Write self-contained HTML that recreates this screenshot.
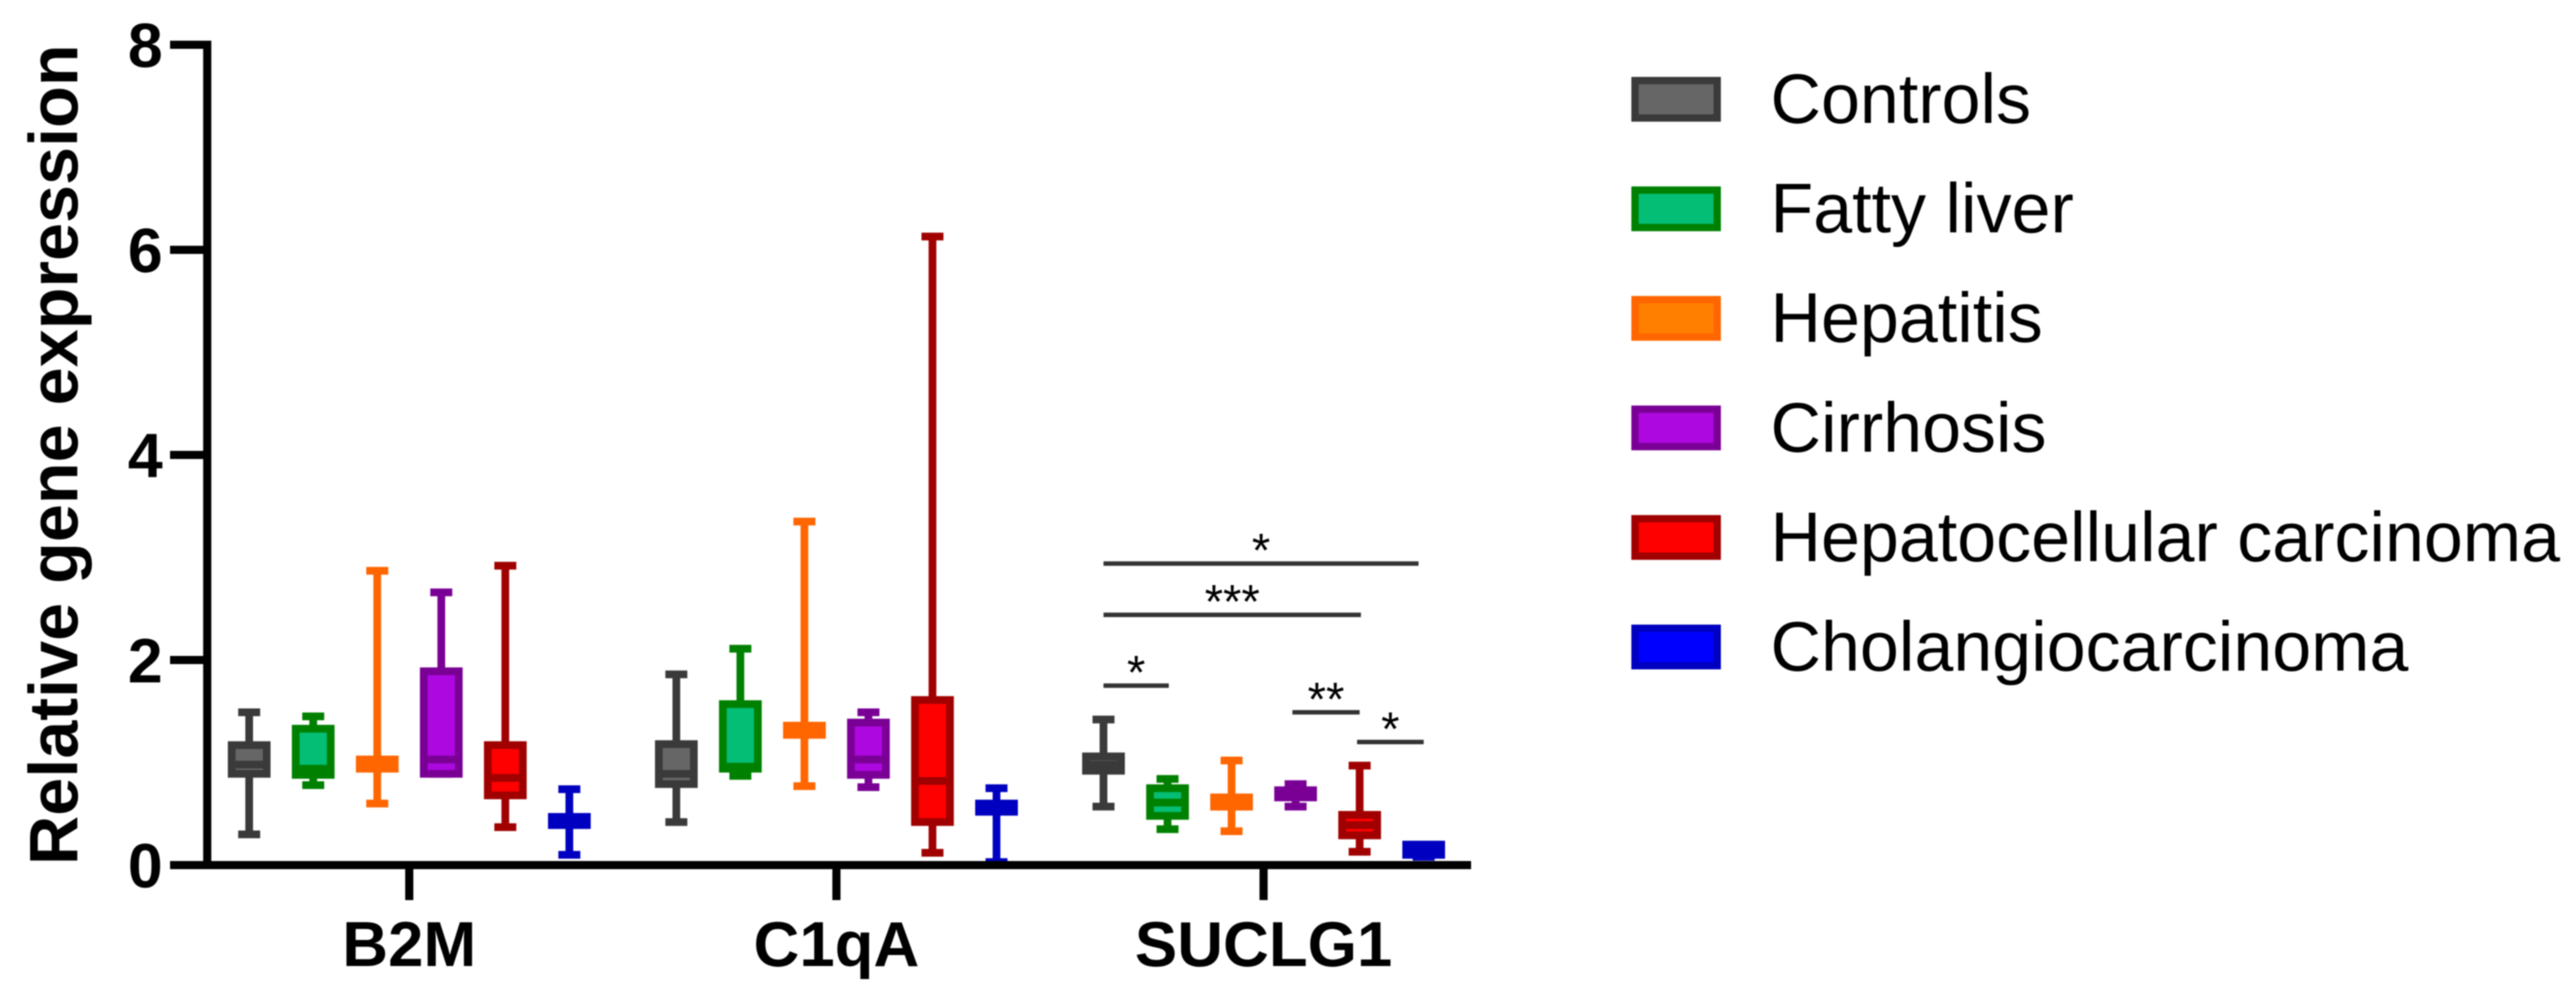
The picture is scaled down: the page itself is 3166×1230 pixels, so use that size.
<!DOCTYPE html>
<html lang="en">
<head>
<meta charset="utf-8">
<title>Relative gene expression box plot</title>
<style>
  html, body { margin: 0; padding: 0; background: #fff; }
  body { width: 3166px; height: 1230px; overflow: hidden; }
  svg { display: block; filter: blur(0.7px); }
  text { font-family: "Liberation Sans", Arial, sans-serif; fill: #000; }
</style>
</head>
<body>
<svg id="chart" xmlns="http://www.w3.org/2000/svg" width="3166" height="1230" viewBox="0 0 3166 1230">
  <rect x="0" y="0" width="3166" height="1230" fill="#ffffff"/>
  <g id="marks"></g>
  <g id="axes"></g>
  <g id="significance"></g>
  <g id="legend"></g>
  <text transform="translate(95 1063) rotate(-90)" font-size="84" font-weight="700">Relative gene expression</text>
</svg>
<script>
// Data. Rows: gene; columns: patient group.
const categories = ['B2M', 'C1qA', 'SUCLG1'];
const seriesNames = ['Controls', 'Fatty liver', 'Hepatitis', 'Cirrhosis', 'Hepatocellular carcinoma', 'Cholangiocarcinoma'];
const yTicks = [0, 2, 4, 6, 8];

const whiskerHigh = [
  [1.49, 1.45, 2.87, 2.66, 2.92, 0.74],
  [1.86, 2.11, 3.35, 1.49, 6.13, 0.75],
  [1.42, 0.84, 1.02, 0.79, 0.97, 0.19]
];
const quartile3 = [
  [1.17, 1.33, 1.03, 1.89, 1.17, 0.47],
  [1.18, 1.57, 1.36, 1.39, 1.61, 0.60],
  [1.06, 0.75, 0.66, 0.73, 0.49, 0.20]
];
const medians = [
  [0.98, 0.94, 0.98, 1.03, 0.85, 0.43],
  [0.89, 0.96, 1.31, 1.03, 0.82, 0.56],
  [0.98, 0.61, 0.61, 0.69, 0.39, 0.15]
];
const quartile1 = [
  [0.89, 0.88, 0.94, 0.89, 0.68, 0.39],
  [0.79, 0.94, 1.27, 0.88, 0.42, 0.52],
  [0.92, 0.48, 0.57, 0.66, 0.29, 0.10]
];
const whiskerLow = [
  [0.30, 0.78, 0.60, 0.89, 0.37, 0.10],
  [0.42, 0.87, 0.77, 0.76, 0.12, 0.03],
  [0.57, 0.35, 0.33, 0.57, 0.13, 0.08]
];

// Significance bars on SUCLG1: end points in group index, height in y units.
const sigLabels = ['*', '***', '*', '**', '*'];
const sigFrom = [0, 0, 0, 2.95, 3.96];
const sigTo = [4.92, 4.02, 1.02, 4, 5];
const sigLevel = [2.94, 2.44, 1.75, 1.49, 1.2];

const strokeColors = ['#3a3a3a', '#008000', '#ff6600', '#7a0095', '#a00000', '#0000c0'];
const fillColors = ['#666666', '#04be76', '#ff7f00', '#ad08e0', '#ff0000', '#0000ff'];

// Axis functions
const PLOT = { left: 254.7, right: 1808, zero: 1063, perUnit: 126, catStart: 503, catStep: 525, groupStep: 78.7 };
function yScale(v) { return PLOT.zero - v * PLOT.perUnit; }
function xCat(c) { return PLOT.catStart + c * PLOT.catStep; }
function xBox(c, s) { return xCat(c) + (s - 2.5) * PLOT.groupStep; }

const SVGNS = 'http://www.w3.org/2000/svg';
function lineEl(parent, x1, y1, x2, y2, color, width) {
  const el = document.createElementNS(SVGNS, 'line');
  el.setAttribute('x1', x1); el.setAttribute('y1', y1);
  el.setAttribute('x2', x2); el.setAttribute('y2', y2);
  el.setAttribute('stroke', color); el.setAttribute('stroke-width', width);
  parent.appendChild(el);
  return el;
}
function rectEl(parent, x, y, w, h, fill, stroke, sw) {
  const el = document.createElementNS(SVGNS, 'rect');
  el.setAttribute('x', x); el.setAttribute('y', y);
  el.setAttribute('width', w); el.setAttribute('height', h);
  el.setAttribute('fill', fill); el.setAttribute('stroke', stroke);
  el.setAttribute('stroke-width', sw);
  parent.appendChild(el);
  return el;
}
function textEl(parent, x, y, str, size, weight, anchor) {
  const el = document.createElementNS(SVGNS, 'text');
  el.setAttribute('x', x); el.setAttribute('y', y);
  el.setAttribute('font-size', size); el.setAttribute('font-weight', weight);
  el.setAttribute('text-anchor', anchor);
  el.textContent = str;
  parent.appendChild(el);
  return el;
}

// Boxes
const marks = document.getElementById('marks');
const BOX_W = 43, CAP_W = 27, SW = 9.5;
categories.forEach(function (cat, c) {
  seriesNames.forEach(function (name, s) {
    const g = document.createElementNS(SVGNS, 'g');
    
    
    marks.appendChild(g);
    const x = xBox(c, s), col = strokeColors[s];
    const wh = yScale(whiskerHigh[c][s]), q3 = yScale(quartile3[c][s]);
    const md = yScale(medians[c][s]), q1 = yScale(quartile1[c][s]), wl = yScale(whiskerLow[c][s]);
    const upper = lineEl(g, x, wh, x, q3, col, SW);
    
    
    const lower = lineEl(g, x, q1, x, wl, col, SW);
    
    
    const capHi = lineEl(g, x - CAP_W / 2, wh, x + CAP_W / 2, wh, col, SW);
    
    
    const capLo = lineEl(g, x - CAP_W / 2, wl, x + CAP_W / 2, wl, col, SW);
    
    
    const box = rectEl(g, x - BOX_W / 2, q3, BOX_W, q1 - q3, fillColors[s], col, SW);
    
    
    const med = lineEl(g, x - BOX_W / 2, md, x + BOX_W / 2, md, col, SW);
    
    
  });
});

// Axes
const axes = document.getElementById('axes');
const yAxis = lineEl(axes, PLOT.left, yScale(8) - 5, PLOT.left, PLOT.zero + 5, '#000', 10);


const xAxis = lineEl(axes, 209, PLOT.zero, PLOT.right, PLOT.zero, '#000', 10);


yTicks.forEach(function (t) {
  const y = yScale(t);
  const tick = lineEl(axes, 209, y, PLOT.left, y, '#000', 10);
  
  
  const lab = textEl(axes, 200, y + 27.5, String(t), 77, 700, 'end');
  
  
});
categories.forEach(function (cat, c) {
  const x = xCat(c);
  const tick = lineEl(axes, x, PLOT.zero, x, 1106, '#000', 10);
  
  
  const lab = textEl(axes, x, 1187, cat, 78, 700, 'middle');
  
  
});

// Significance bars
const sig = document.getElementById('significance');
sigLabels.forEach(function (label, i) {
  const x1 = xBox(2, sigFrom[i]), x2 = xBox(2, sigTo[i]), y = yScale(sigLevel[i]);
  const bar = lineEl(sig, x1, y, x2, y, '#333333', 5.5);
  
  
  const star = textEl(sig, (x1 + x2) / 2, y + 4, label, 58, 400, 'middle');
  
  
});

// Legend
const legend = document.getElementById('legend');
seriesNames.forEach(function (name, s) {
  const cy = 122 + s * 134.6;
  const g = document.createElementNS(SVGNS, 'g');
  
  
  legend.appendChild(g);
  const sw = rectEl(g, 2009.5, cy - 23, 101, 46, fillColors[s], strokeColors[s], 9);
  
  
  const lab = textEl(g, 2176, cy + 29, name, 86, 400, 'start');
  
  
});
</script>
</body>
</html>
